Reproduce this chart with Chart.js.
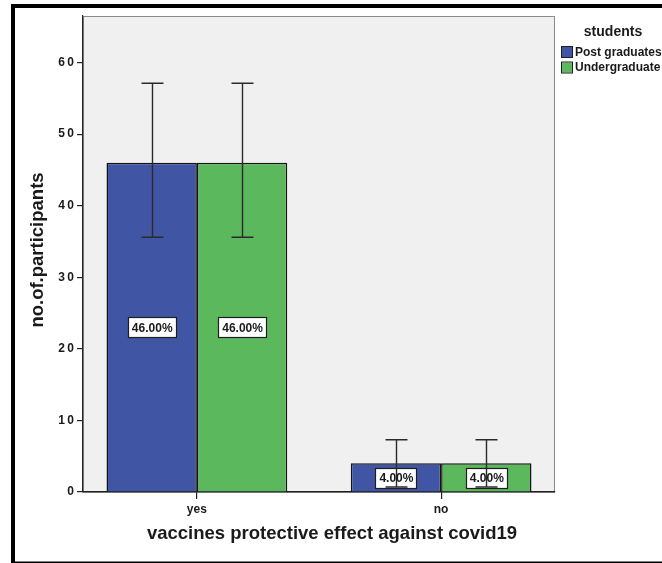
<!DOCTYPE html>
<html>
<head>
<meta charset="utf-8">
<script src="https://cdn.jsdelivr.net/npm/chart.js@4"></script>
<style>
  html, body { margin: 0; padding: 0; background: #ffffff; }
  #wrap { width: 662px; height: 563px; position: relative; }
</style>
</head>
<body>
<div id="wrap"><canvas id="c" width="662" height="563"></canvas></div>
<script>
// ---- data ----
const categories = ['yes', 'no'];
const seriesNames = ['Post graduates', 'Undergraduate'];
const legendTitle = 'students';
const postGrad = [46, 4];
const underGrad = [46, 4];
const postGradLow = [35.6, 0.7];
const postGradHigh = [57.1, 7.3];
const underGradLow = [35.6, 0.7];
const underGradHigh = [57.1, 7.3];
const yTickValues = [0, 10, 20, 30, 40, 50, 60];
const xTitle = 'vaccines protective effect against covid19';
const yTitle = 'no.of.participants';

const colors = ['#4155a5', '#5cb85c'];
const FONT = '"Liberation Sans", Arial, Helvetica, sans-serif';
const total = postGrad.reduce((a, b) => a + b, 0) + underGrad.reduce((a, b) => a + b, 0);

const seriesValues = [postGrad, underGrad];
const lows = [postGradLow, underGradLow];
const highs = [postGradHigh, underGradHigh];

const datasets = seriesValues.map((vals, s) => ({
  label: seriesNames[s],
  data: vals.map((v, i) => ({ x: i, y: v })),
  backgroundColor: colors[s],
  borderColor: '#141414',
  borderWidth: 1.5,
  borderSkipped: 'start',
  categoryPercentage: 0.74,
  barPercentage: 1.0
}));

const bgPlugin = {
  id: 'bg',
  beforeDraw(chart) {
    const { ctx, chartArea: a } = chart;
    ctx.save();
    ctx.fillStyle = '#ffffff';
    ctx.fillRect(0, 0, chart.width, chart.height);
    ctx.fillStyle = '#f0f0f0';
    ctx.fillRect(a.left, a.top, a.right - a.left, a.bottom - a.top);
    ctx.strokeStyle = '#8c8c8c';
    ctx.lineWidth = 1;
    ctx.strokeRect(a.left + 0.5, a.top + 0.5, a.right - a.left - 1, a.bottom - a.top);
    ctx.restore();
  }
};

const overlayPlugin = {
  id: 'overlay',
  afterDatasetsDraw(chart) {
    const { ctx } = chart;
    const yS = chart.scales.y;
    ctx.save();
    // value labels
    ctx.font = 'bold 12px ' + FONT;
    ctx.textAlign = 'center';
    ctx.textBaseline = 'middle';
    chart.data.datasets.forEach((ds, s) => {
      const meta = chart.getDatasetMeta(s);
      meta.data.forEach((bar, i) => {
        const v = seriesValues[s][i];
        const txt = (v / total * 100).toFixed(2) + '%';
        const cy = yS.getPixelForValue(v / 2);
        const w = Math.round(ctx.measureText(txt).width + 7);
        const h = 20;
        const x0 = Math.round(bar.x - w / 2), y0 = Math.round(cy - h / 2);
        ctx.fillStyle = '#ffffff';
        ctx.fillRect(x0, y0, w, h);
        ctx.strokeStyle = '#1e1e1e';
        ctx.lineWidth = 1.2;
        ctx.strokeRect(x0 + 0.5, y0 + 0.5, w, h);
        ctx.fillStyle = '#1a1a1a';
        ctx.fillText(txt, bar.x + 0.5, cy + 1);
      });
    });
    // error bars
    chart.data.datasets.forEach((ds, s) => {
      const meta = chart.getDatasetMeta(s);
      meta.data.forEach((bar, i) => {
        const yl = yS.getPixelForValue(lows[s][i]);
        const yh = yS.getPixelForValue(highs[s][i]);
        const x = Math.round(bar.x) + 0.5;
        ctx.strokeStyle = '#2a2a2a';
        ctx.lineWidth = 1.4;
        ctx.beginPath();
        ctx.moveTo(x, yl); ctx.lineTo(x, yh);
        ctx.moveTo(x - 11, yh); ctx.lineTo(x + 11, yh);
        ctx.moveTo(x - 11, yl); ctx.lineTo(x + 11, yl);
        ctx.stroke();
      });
    });
    ctx.restore();
  },
  afterDraw(chart) {
    const { ctx } = chart;
    ctx.save();
    // x axis title (offset to the right as in the reference)
    ctx.fillStyle = '#1a1a1a';
    ctx.font = 'bold 18.5px ' + FONT;
    ctx.textAlign = 'center';
    ctx.textBaseline = 'middle';
    ctx.fillText(xTitle, 332, 534);
    // y axis title
    ctx.save();
    ctx.translate(38, 250);
    ctx.rotate(-Math.PI / 2);
    ctx.fillText(yTitle, 0, 0);
    ctx.restore();
    // legend
    ctx.fillStyle = '#1a1a1a';
    ctx.font = 'bold 14px ' + FONT;
    ctx.textAlign = 'center';
    ctx.textBaseline = 'middle';
    ctx.fillText(legendTitle, 613, 32);
    ctx.font = 'bold 12px ' + FONT;
    ctx.textAlign = 'left';
    const rows = [52, 67.5];
    seriesNames.forEach((n, s) => {
      const cy = rows[s];
      ctx.fillStyle = colors[s];
      ctx.fillRect(562, cy - 5, 10, 10);
      ctx.strokeStyle = '#1e1e1e';
      ctx.lineWidth = 1;
      ctx.strokeRect(561.5, cy - 5.5, 11, 11);
      ctx.fillStyle = '#1a1a1a';
      ctx.fillText(n, 575, cy + 0.5);
    });
    // outer black frame
    ctx.strokeStyle = '#000000';
    ctx.lineWidth = 4;
    ctx.strokeRect(13, 6, 720, 557.5);
    ctx.restore();
  }
};

const spaced = (v) => String(v).split('').join('\u2009');

new Chart(document.getElementById('c'), {
  type: 'bar',
  data: { datasets },
  options: {
    responsive: false,
    animation: false,
    layout: { padding: { left: 0, top: 16, right: 107, bottom: 0 } },
    plugins: { legend: { display: false }, tooltip: { enabled: false } },
    scales: {
      x: {
        type: 'linear',
        min: -0.4663,
        max: 1.4663,
        offset: false,
        afterBuildTicks: (s) => { s.ticks = categories.map((c, i) => ({ value: i })); },
        afterFit: (s) => { s.height = 71; },
        ticks: {
          callback: (v) => categories[v] !== undefined ? categories[v] : '',
          font: { family: FONT, size: 12, weight: 'bold' },
          color: '#1a1a1a',
          padding: 3,
          maxRotation: 0,
          autoSkip: false
        },
        grid: { offset: false, drawOnChartArea: false, drawTicks: true, tickLength: 7, color: '#222', lineWidth: 1.2 },
        border: { display: true, color: '#222', width: 1.2 },
        title: { display: false }
      },
      y: {
        min: 0,
        max: 66.5,
        afterBuildTicks: (s) => { s.ticks = yTickValues.map(v => ({ value: v })); },
        afterFit: (s) => { s.width = 83; },
        ticks: {
          callback: (v) => spaced(v),
          font: { family: FONT, size: 12, weight: 'bold' },
          color: '#1a1a1a',
          padding: 3
        },
        grid: { drawOnChartArea: false, drawTicks: true, tickLength: 6, color: '#222', lineWidth: 1.2 },
        border: { display: true, color: '#222', width: 1.2 },
        title: { display: false }
      }
    }
  },
  plugins: [bgPlugin, overlayPlugin]
});
</script>
</body>
</html>
